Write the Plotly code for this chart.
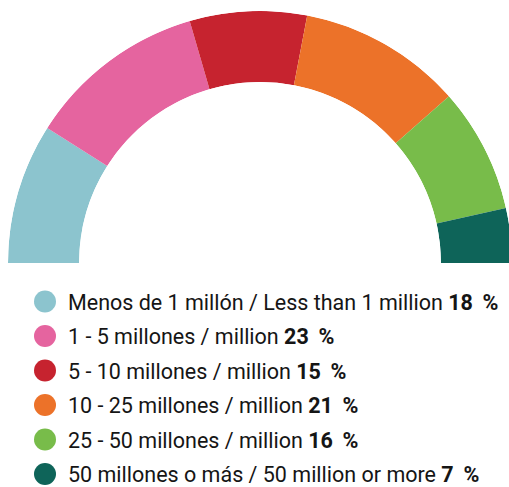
import plotly.graph_objects as go

labels = [
    "Menos de 1 millón / Less than 1 million",
    "1 - 5 millones / million",
    "5 - 10 millones / million",
    "10 - 25 millones / million",
    "25 - 50 millones / million",
    "50 millones o más / 50 million or more",
]
values = [18, 23, 15, 21, 16, 7]
colors = ["#8cc4ce", "#e5649f", "#c6232f", "#ec7229", "#78bc4a", "#0e6459"]

# figure is 3px wider than the window so the ring's right edge is clipped like the reference
W, H = 512, 487
FONT = "Roboto, 'Open Sans', sans-serif"

fig = go.Figure()

total = sum(values)
cum = 0
for lab, v, c in zip(labels, values, colors):
    width = v / total * 180.0
    center = (cum + v / 2) / total * 180.0
    cum += v
    fig.add_trace(go.Barpolar(
        r=[1], theta=[center], width=[width], base=0,
        marker=dict(color=c, line=dict(width=0)),
        name=lab, showlegend=False, hoverinfo="skip",
    ))

# custom legend: circles + text
rows = list(range(len(labels)))
fig.add_trace(go.Scatter(
    x=[45] * len(labels), y=rows, mode="markers",
    marker=dict(size=22, color=colors, line=dict(width=0)),
    showlegend=False, hoverinfo="skip", xaxis="x", yaxis="y", cliponaxis=False,
))
annotations = []
for i, (lab, v) in enumerate(zip(labels, values)):
    annotations.append(dict(
        x=66, y=i + 0.02, xref="x", yref="y", xanchor="left", yanchor="middle",
        text=f"{lab} <b>{v} \u2009%</b>", showarrow=False,
        font=dict(family=FONT, size=21.5, color="#151515"),
    ))

fig.update_layout(
    width=W, height=H,
    margin=dict(l=0, r=0, t=0, b=0),
    paper_bgcolor="white", plot_bgcolor="white",
    polar=dict(
        domain=dict(x=[8 / W, 1], y=[1 - 265 / H, 1 - 9 / H]),
        sector=[0, 180], hole=0.718,
        bgcolor="rgba(0,0,0,0)",
        radialaxis=dict(range=[0, 1], visible=False, showgrid=False, showline=False, ticks=""),
        angularaxis=dict(visible=False, showgrid=False, showline=False, ticks="",
                         direction="clockwise", rotation=180),
        bargap=0,
    ),
    xaxis=dict(domain=[0, 1], range=[0, W], visible=False, fixedrange=True),
    yaxis=dict(domain=[0, 0.42], range=[5.377, -0.551], visible=False, fixedrange=True),
    annotations=annotations,
)

fig.write_html(
    "out.html",
    config={"displayModeBar": False, "staticPlot": True},
    post_script="document.body.style.margin='0';document.body.style.overflow='hidden';",
)
